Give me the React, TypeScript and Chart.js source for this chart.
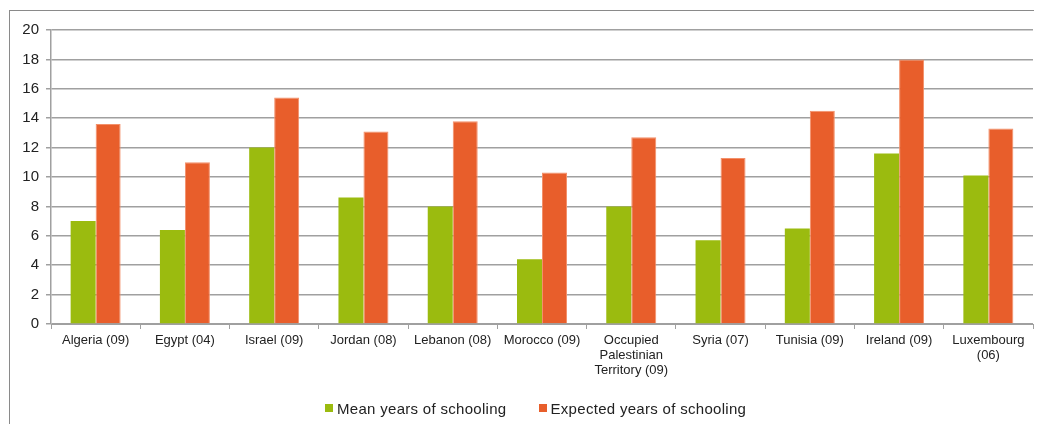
import React, { useEffect, useRef } from "react";
import { Chart, registerables } from "chart.js";

Chart.register(...registerables);

// Country (latest survey year) labels; multi-line ones are given as arrays
const categories: (string | string[])[] = [
  "Algeria (09)",
  "Egypt (04)",
  "Israel (09)",
  "Jordan (08)",
  "Lebanon (08)",
  "Morocco (09)",
  ["Occupied", "Palestinian", "Territory (09)"],
  "Syria (07)",
  "Tunisia (09)",
  "Ireland (09)",
  ["Luxembourg", "(06)"],
];

const meanYears = [7.0, 6.4, 12.0, 8.6, 8.0, 4.4, 8.0, 5.7, 6.5, 11.6, 10.1];
const expectedYears = [13.6, 11.0, 15.4, 13.1, 13.8, 10.3, 12.7, 11.3, 14.5, 18.0, 13.3];

const seriesNames = ["Mean years of schooling", "Expected years of schooling"];

const yMin = 0;
const yMax = 20;
const yStep = 2;

const GREEN = "#9BBB0F";
const ORANGE = "#E85E2B";
const seriesColors = [GREEN, ORANGE];
const GRID = "#A0A0A0";
const TEXT = "#222";
const FONT = "'Liberation Sans', Arial, sans-serif";

export default function App() {
  const canvasRef = useRef<HTMLCanvasElement | null>(null);

  useEffect(() => {
    if (!canvasRef.current) return;
    const chart = new Chart(canvasRef.current, {
      type: "bar",
      data: {
        labels: categories,
        datasets: [
          {
            label: seriesNames[0],
            data: meanYears,
            backgroundColor: GREEN,
            borderWidth: 0,
          },
          {
            label: seriesNames[1],
            data: expectedYears,
            backgroundColor: ORANGE,
            borderColor: "#F3906A",
            borderWidth: { top: 1, left: 1, right: 1, bottom: 0 },
          },
        ],
      },
      options: {
        responsive: false,
        animation: false,
        layout: { padding: { left: 0, right: 9, top: 22, bottom: 0 } },
        datasets: {
          bar: { categoryPercentage: 0.56, barPercentage: 1.0 },
        },
        scales: {
          x: {
            offset: true,
            grid: {
              drawOnChartArea: false,
              drawTicks: true,
              tickLength: 5,
              color: GRID,
              lineWidth: 1,
            },
            border: { display: true, color: GRID, width: 1 },
            ticks: {
              color: TEXT,
              font: { family: FONT, size: 13, lineHeight: 1.15 },
              padding: 4,
              maxRotation: 0,
              autoSkip: false,
            },
            // leave the lower band of the canvas for the axis labels and the legend row
            afterFit: (scale: any) => {
              scale.height = 100;
            },
          },
          y: {
            min: yMin,
            max: yMax,
            ticks: {
              stepSize: yStep,
              color: TEXT,
              font: { family: FONT, size: 15 },
              padding: 7,
            },
            grid: {
              color: GRID,
              lineWidth: 1.5,
              tickLength: 5,
            },
            border: { display: true, color: GRID, width: 1.5 },
            afterFit: (scale: any) => {
              scale.width = 43;
            },
          },
        },
        plugins: {
          legend: { display: false },
          tooltip: { enabled: false },
        },
      },
    });
    return () => chart.destroy();
  }, []);

  return (
    <div style={{ position: "relative", width: 1034, height: 416, fontFamily: FONT }}>
      <div
        style={{
          position: "absolute",
          left: 1,
          top: 2,
          width: 1033,
          height: 414,
          borderTop: "1px solid #8A8A8A",
          borderLeft: "1px solid #8A8A8A",
          boxSizing: "border-box",
        }}
      />
      <canvas
        ref={canvasRef}
        width={1034}
        height={416}
        style={{ position: "absolute", left: 0, top: 0 }}
      />
      <div
        style={{
          position: "absolute",
          left: 317,
          top: 390,
          height: 20,
          display: "flex",
          alignItems: "center",
          gap: 32,
          fontSize: 15,
          letterSpacing: 0.3,
          color: TEXT,
          whiteSpace: "nowrap",
        }}
      >
        {seriesNames.map((name, i) => (
          <div key={name} style={{ display: "flex", alignItems: "center" }}>
            <span
              style={{
                display: "inline-block",
                width: 8,
                height: 8,
                marginRight: 4,
                background: seriesColors[i],
              }}
            />
            <span>{name}</span>
          </div>
        ))}
      </div>
    </div>
  );
}
